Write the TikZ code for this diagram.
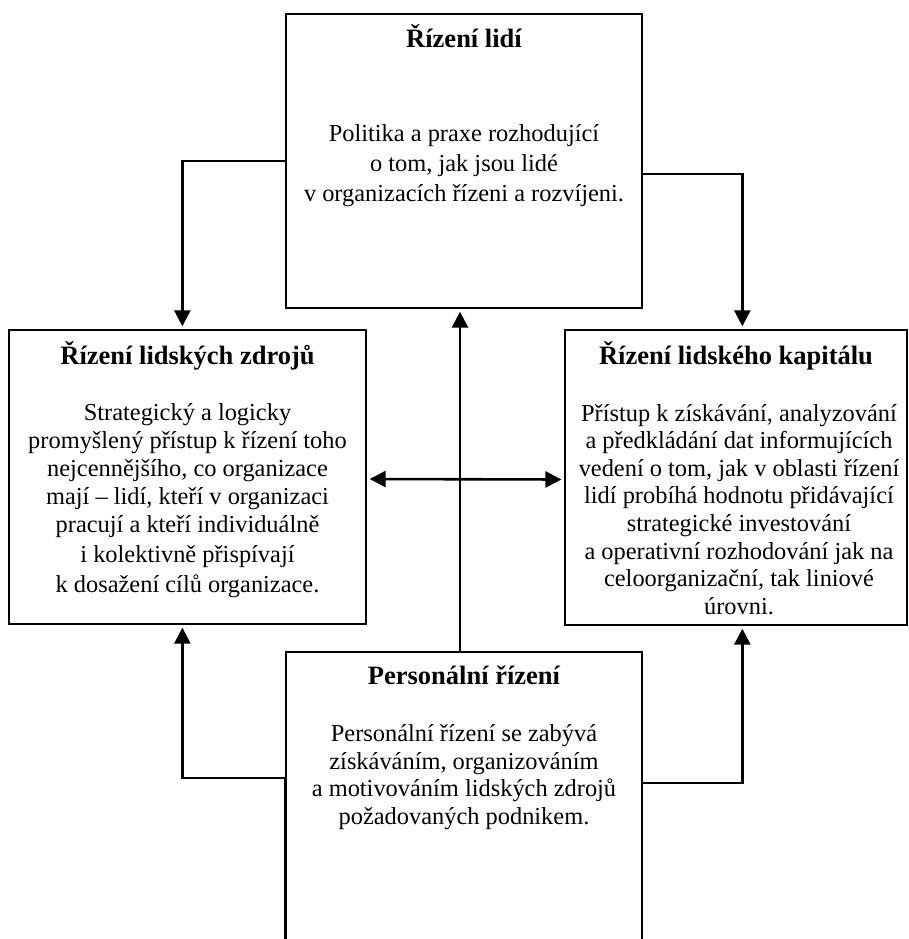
\documentclass[tikz,border=0pt]{standalone}
\usepackage{fontspec}
\setmainfont{Liberation Serif}
\usetikzlibrary{positioning,calc}
\usetikzlibrary{arrows.meta}
\tikzset{>={Triangle[length=16pt,width=16pt]}}
\tikzset{
  box/.style={draw, line width=1.3pt, inner sep=0pt},
  title/.style={font=\bfseries\fontsize{26.5}{30}\selectfont, anchor=base, inner sep=0pt},
  body/.style={font=\fontsize{24.4}{27.6}\selectfont, align=center, anchor=base, inner sep=0pt},
  conn/.style={line width=2.6pt, shorten >=3pt}
}
\begin{document}
\begin{tikzpicture}[x=1pt,y=-1pt]
  \useasboundingbox (0,0) rectangle (908,939);
  \clip (0,0) rectangle (908,939);

  % boxes
  \node[box, minimum width=356pt, minimum height=294pt] (lidi) at (464,161) {};
  \node[box, minimum width=357pt, minimum height=294pt] (zdroje) at (187.5,477) {};
  \node[box, minimum width=342pt, minimum height=295pt] (kapital) at (736,477.5) {};
  \node[box, minimum width=356pt, minimum height=320pt] (personal) at (464,812) {};

  % texts (body nodes sit on their last baseline)
  \node[title] (lidiT) at ([yshift=-34pt]lidi.north) {Řízení lidí};
  \node[body, font=\fontsize{24.4}{30}\selectfont] (lidiB) at ([yshift=-188pt]lidi.north)
    {Politika a praxe rozhodující\\o tom, jak jsou lidé\\v organizacích řízeni a rozvíjeni.};

  \node[title] (zdrojeT) at ([yshift=-35pt]zdroje.north) {Řízení lidských zdrojů};
  \node[body, font=\fontsize{24.4}{28}\selectfont] (zdrojeB) at ([yshift=-263pt]zdroje.north)
    {Strategický a logicky\\promyšlený přístup k řízení toho\\nejcennějšího, co organizace\\
     mají – lidí, kteří v organizaci\\pracují a kteří individuálně\\[2pt]
     i kolektivně přispívají\\[2pt]k dosažení cílů organizace.};

  \node[title] (kapitalT) at ([yshift=-35pt]kapital.north) {Řízení lidského kapitálu};
  \node[body] (kapitalB) at ([xshift=3pt,yshift=-285pt]kapital.north)
    {Přístup k získávání, analyzování\\a předkládání dat informujících\\
     vedení o tom, jak v oblasti řízení\\lidí probíhá hodnotu přidávající\\
     strategické investování\\a operativní rozhodování jak na\\
     celoorganizační, tak liniové\\úrovni.};

  \node[title] (personalT) at ([yshift=-33pt]personal.north) {Personální řízení};
  \node[body] (personalB) at ([yshift=-173pt]personal.north)
    {Personální řízení se zabývá\\získáváním, organizováním\\
     a motivováním lidských zdrojů\\požadovaných podnikem.};

  % connectors
  \draw[conn, ->] (lidi.west) -| ([xshift=174pt]zdroje.north west);
  \draw[conn, ->] ([yshift=-13pt]lidi.east) -| ([xshift=178pt]kapital.north west);
  \draw[conn, <->, shorten <=3pt] ([yshift=-2pt]zdroje.east) -- ([yshift=-2pt]kapital.west);
  \draw[conn, ->] ([xshift=-4pt]personal.north) -- ([xshift=-4pt]lidi.south);
  \draw[conn, ->] (personal.south west) -- ([yshift=34pt]personal.west) -| ([xshift=174pt]zdroje.south west);
  \draw[conn, ->] ([yshift=29pt]personal.east) -| ([xshift=178pt]kapital.south west);
\end{tikzpicture}
\end{document}
